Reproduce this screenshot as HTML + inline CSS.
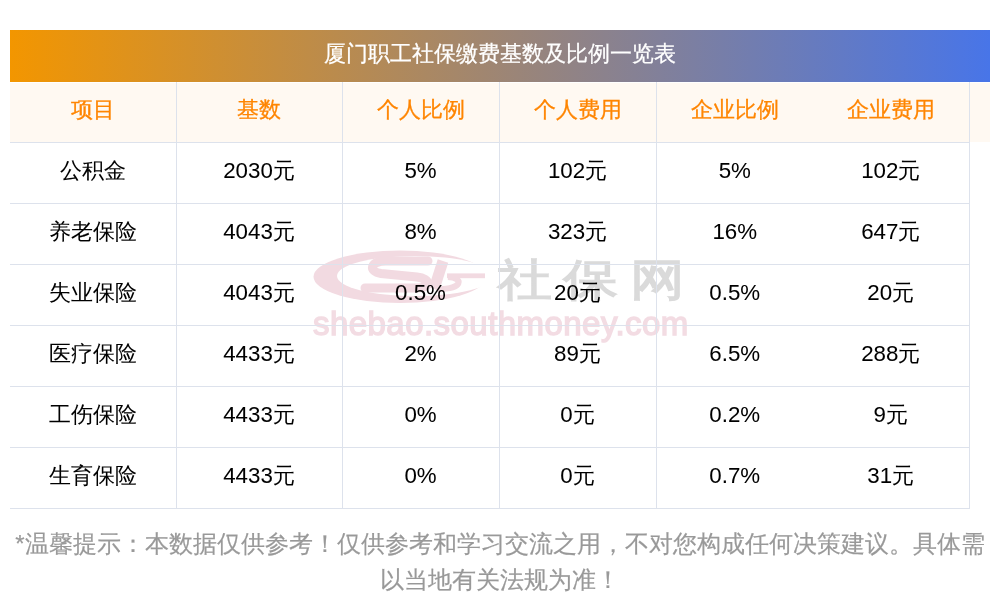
<!DOCTYPE html>
<html><head><meta charset="utf-8">
<style>
*{margin:0;padding:0;box-sizing:border-box}
html,body{width:1000px;height:612px;background:#fff;overflow:hidden;font-family:"Liberation Sans",sans-serif}
.title{will-change:transform;-webkit-text-stroke:0.25px #fff;position:absolute;z-index:3;left:10px;top:30px;width:980px;height:52px;background:linear-gradient(90deg,#f39600,#4875e8);color:#fff;font-size:22.3px;line-height:48px;text-align:center}
.hbg{position:absolute;left:10px;top:83px;width:980px;height:59px;background:#fff9f2}
.wm{will-change:transform;position:absolute;left:0;top:0;width:1000px;height:612px}
.wmt{position:absolute;left:313px;top:305px;font-weight:normal;-webkit-text-stroke:1.4px #f3dce3;filter:blur(0.3px);font-size:33px;letter-spacing:0.45px;color:#f3dce3;white-space:nowrap}
.wmc{position:absolute;left:497px;top:251px;font-weight:normal;-webkit-text-stroke:1.3px #dadada;font-size:44px;letter-spacing:9px;color:#dadada;white-space:nowrap;transform:scaleX(1.25);transform-origin:0 0}
table{will-change:transform;position:absolute;left:10px;top:81px;border-collapse:collapse;width:959px;table-layout:fixed}
td,th{height:61px;text-align:center;font-size:22.3px;color:#000;font-weight:normal;-webkit-text-stroke:0.05px #000;border-bottom:1px solid #dde2ec;border-right:1px solid #dde2ec;padding-bottom:4px}
th{color:#ff8500;padding-bottom:2px;-webkit-text-stroke:0.3px #ff8500}
td.nb,th.nb{border-right:none}
.foot{will-change:transform;-webkit-text-stroke:0.2px #999;position:absolute;left:10px;top:525.5px;width:980px;text-align:center;color:#999;font-size:24px;line-height:36px}
</style></head><body>
<div class="title">厦门职工社保缴费基数及比例一览表</div>
<div class="hbg"></div>
<div class="wm">
<svg width="1000" height="612" style="position:absolute;left:0;top:0">
<defs><mask id="m"><rect width="1000" height="612" fill="#fff"/><ellipse cx="415" cy="276" rx="78" ry="20" fill="#000"/></mask></defs>
<g fill="#f2dae1">
<ellipse cx="400" cy="276.8" rx="86.5" ry="26.2" mask="url(#m)"/>
<rect x="447" y="273.4" width="38" height="4.8"/>
</g>
<g fill="none" stroke="#f2dae1" stroke-width="7">
<path d="M428,261 L386,261 C370,261 368,271.5 381,273.5 L417,277 C431,278.5 431,288 417,288 L365,288" stroke-width="9" stroke-linecap="round"/>
<path d="M443,261 L434,289" stroke-width="11"/>
<path d="M448,277 C464,278 463,289 438,289" stroke-width="6"/>
</g>
</svg>
<div class="wmc">社保网</div>
<div class="wmt">shebao.southmoney.com</div>
</div>
<table>
<colgroup><col style="width:166px"><col style="width:166px"><col style="width:157px"><col style="width:157px"><col style="width:157px"><col style="width:156px"></colgroup>
<tr><th>项目</th><th>基数</th><th>个人比例</th><th>个人费用</th><th class="nb">企业比例</th><th>企业费用</th></tr>
<tr><td>公积金</td><td>2030元</td><td>5%</td><td>102元</td><td class="nb">5%</td><td>102元</td></tr>
<tr><td>养老保险</td><td>4043元</td><td>8%</td><td>323元</td><td class="nb">16%</td><td>647元</td></tr>
<tr><td>失业保险</td><td>4043元</td><td>0.5%</td><td>20元</td><td class="nb">0.5%</td><td>20元</td></tr>
<tr><td>医疗保险</td><td>4433元</td><td>2%</td><td>89元</td><td class="nb">6.5%</td><td>288元</td></tr>
<tr><td>工伤保险</td><td>4433元</td><td>0%</td><td>0元</td><td class="nb">0.2%</td><td>9元</td></tr>
<tr><td>生育保险</td><td>4433元</td><td>0%</td><td>0元</td><td class="nb">0.7%</td><td>31元</td></tr>
</table>
<div class="foot">*温馨提示：本数据仅供参考！仅供参考和学习交流之用，不对您构成任何决策建议。具体需以当地有关法规为准！</div>
</body></html>
